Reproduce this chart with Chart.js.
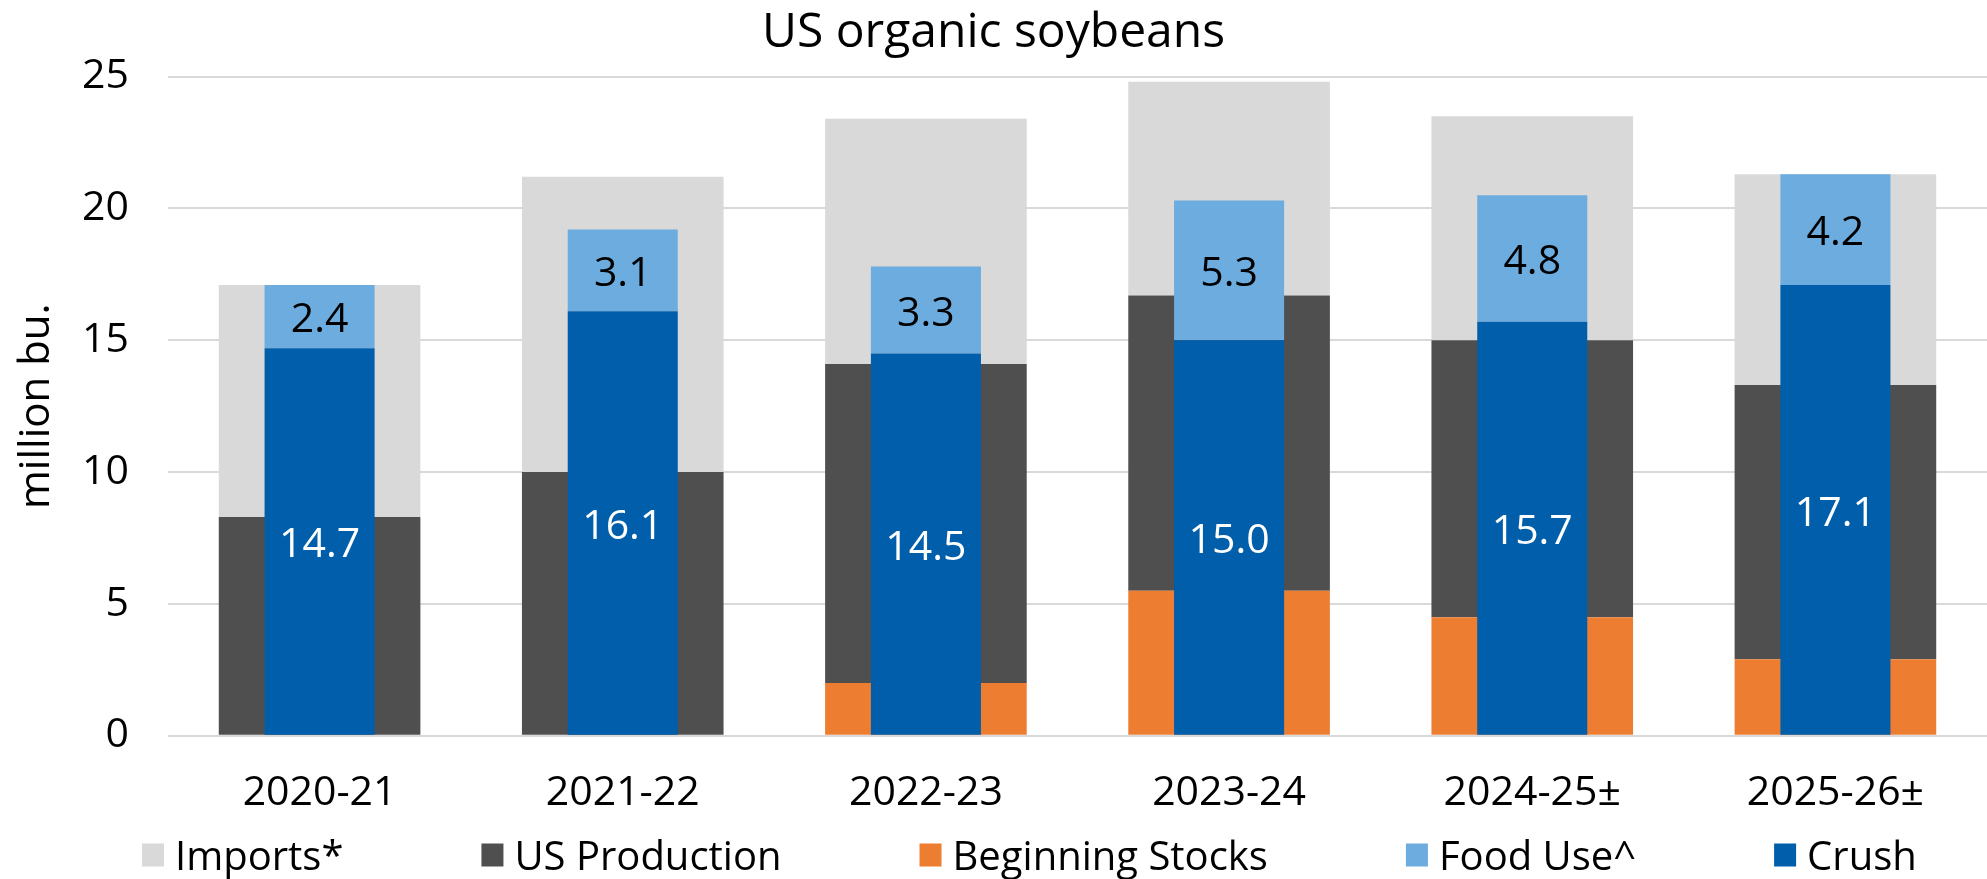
<!DOCTYPE html>
<html>
<head>
<meta charset="utf-8">
<script src="https://cdn.jsdelivr.net/npm/chart.js@4.4.1/dist/chart.umd.min.js"></script>
<style>
  html, body { margin: 0; padding: 0; background: #fff; }
  #wrap { width: 1987px; height: 879px; }
</style>
</head>
<body>
<div id="wrap"><canvas id="chart" width="1987" height="879"></canvas></div>
<script>
const categories = ['2020-21', '2021-22', '2022-23', '2023-24', '2024-25±', '2025-26±']

// supply side (wide bars)
const beginningStocks = [0, 0, 2.0, 5.5, 4.5, 2.9]
const usProduction = [8.3, 10.0, 12.1, 11.2, 10.5, 10.4]
const imports = [8.8, 11.2, 9.3, 8.1, 8.5, 8.0]

// use side (narrow bars)
const crush = [14.7, 16.1, 14.5, 15.0, 15.7, 17.1]
const foodUse = [2.4, 3.1, 3.3, 5.3, 4.8, 4.2]

const yTicks = [0, 5, 10, 15, 20, 25]

const fontFamily = '"Open Sans", "Noto Sans", sans-serif'

// value labels inside the crush / food bars
const valueLabels = {
  id: 'valueLabels',
  afterDatasetsDraw (chart) {
    const ctx = chart.ctx
    ctx.save()
    ctx.font = '41px ' + fontFamily
    ctx.textAlign = 'center'
    ctx.textBaseline = 'middle'
    chart.data.datasets.forEach((ds, i) => {
      if (!ds.showValues) return
      chart.getDatasetMeta(i).data.forEach((bar, j) => {
        ctx.fillStyle = ds.valueColor
        ctx.fillText(ds.data[j].toFixed(1), bar.x, (bar.y + bar.base) / 2 + 4)
      })
    })
    ctx.restore()
  }
}

// legend with Excel-like spacing (wider gaps than chart.js allows without a tall box)
const bottomLegend = {
  id: 'bottomLegend',
  afterDraw (chart, _args, opts) {
    const ctx = chart.ctx
    ctx.save()
    ctx.font = opts.fontSize + 'px ' + fontFamily
    ctx.textBaseline = 'alphabetic'
    let x = opts.startX
    chart.data.datasets.slice().reverse().forEach(ds => {
      ctx.fillStyle = ds.backgroundColor
      ctx.fillRect(x, opts.y - opts.boxHeight / 2, opts.boxWidth, opts.boxHeight)
      x += opts.boxWidth + opts.textGap
      ctx.fillStyle = '#000'
      ctx.fillText(ds.label, x, opts.y + 15)
      x += ctx.measureText(ds.label).width + opts.itemGap
    })
    ctx.restore()
  }
}

const wide = { categoryPercentage: 1, barPercentage: 0.665, grouped: false, stack: 'supply' }
const narrow = { categoryPercentage: 1, barPercentage: 0.363, grouped: false, stack: 'use' }

new Chart(document.getElementById('chart'), {
  type: 'bar',
  data: {
    labels: categories,
    datasets: [
      { label: 'Crush', data: crush, backgroundColor: '#005eaa', showValues: true, valueColor: '#ffffff', ...narrow },
      { label: 'Food Use^', data: foodUse, backgroundColor: '#6cacdf', showValues: true, valueColor: '#000000', ...narrow },
      { label: 'Beginning Stocks', data: beginningStocks, backgroundColor: '#ed7d31', ...wide },
      { label: 'US Production', data: usProduction, backgroundColor: '#4f4f4f', ...wide },
      { label: 'Imports*', data: imports, backgroundColor: '#d9d9d9', ...wide }
    ]
  },
  options: {
    responsive: false,
    animation: false,
    layout: { padding: { left: 0, right: 0, top: 0, bottom: 28 } },
    plugins: {
      legend: { display: false },
      tooltip: { enabled: false },
      title: {
        display: true,
        text: 'US organic soybeans',
        color: '#000',
        font: { family: fontFamily, size: 48, weight: 'normal' },
        padding: { top: 5, bottom: 14 }
      },
      bottomLegend: { startX: 142, y: 855, boxWidth: 22, boxHeight: 23, textGap: 11, itemGap: 138, fontSize: 40 }
    },
    scales: {
      x: {
        stacked: true,
        grid: { display: false, drawTicks: false },
        border: { display: false },
        ticks: { color: '#000', font: { family: fontFamily, size: 41 }, padding: 33 }
      },
      y: {
        stacked: true,
        min: 0,
        max: 25,
        afterBuildTicks: (scale) => { scale.ticks = yTicks.map(v => ({ value: v })) },
        grid: { color: '#d9d9d9', lineWidth: 2, drawTicks: false },
        border: { display: false },
        ticks: { color: '#000', font: { family: fontFamily, size: 41 }, padding: 39 },
        title: {
          display: true,
          text: 'million bu.',
          color: '#000',
          font: { family: fontFamily, size: 42 },
          padding: { top: 12, bottom: 4 }
        },
        afterFit: (scale) => { scale.width = 168 }
      }
    }
  },
  plugins: [valueLabels, bottomLegend]
})
</script>
</body>
</html>
